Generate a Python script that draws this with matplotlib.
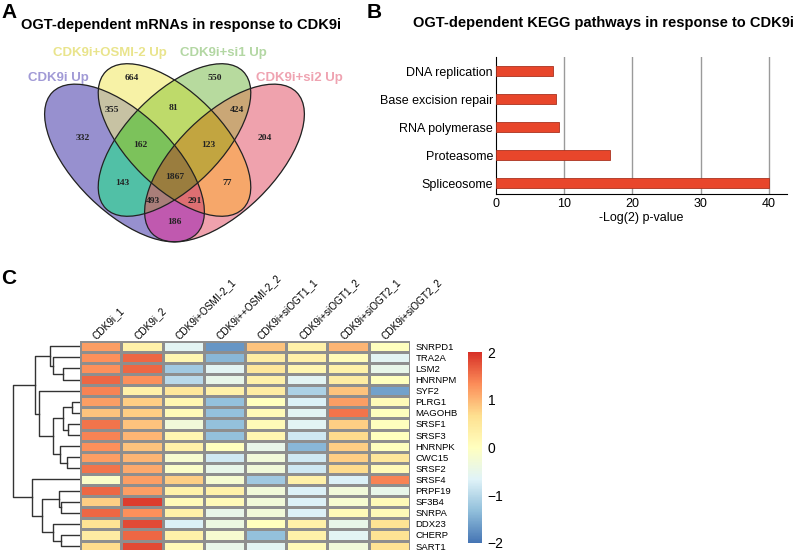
import matplotlib.pyplot as plt
import numpy as np
from matplotlib.patches import Ellipse
from matplotlib.colors import LinearSegmentedColormap, to_rgba

plt.rcParams['font.family'] = ['Liberation Sans', 'DejaVu Sans']

# ---- panel A: venn counts, region code = (CDK9i, OSMI-2, si1, si2)
venn_names = ['CDK9i Up', 'CDK9i+OSMI-2 Up', 'CDK9i+si1 Up', 'CDK9i+si2 Up']
venn_regions = ['1000', '0100', '0010', '0001', '1100', '0110', '0011', '1110',
                '0111', '1010', '1111', '0101', '1011', '1101', '1001']
venn_counts = [332, 664, 550, 204, 355, 81, 424, 162, 123, 143, 1867, 77, 493, 291, 186]

# ---- panel B
kegg_terms = ['Spliceosome', 'Proteasome', 'RNA polymerase', 'Base excision repair', 'DNA replication']
kegg_scores = [40.0, 16.8, 9.2, 8.85, 8.4]

# ---- panel C
samples = ['CDK9i_1', 'CDK9i_2', 'CDK9i+OSMI-2_1', 'CDK9i++OSMI-2_2', 'CDK9i+siOGT1_1',
           'CDK9i+siOGT1_2', 'CDK9i+siOGT2_1', 'CDK9i+siOGT2_2']
genes = ['SNRPD1', 'TRA2A', 'LSM2', 'HNRNPM', 'SYF2', 'PLRG1', 'MAGOHB', 'SRSF1', 'SRSF3',
         'HNRNPK', 'CWC15', 'SRSF2', 'SRSF4', 'PRPF19', 'SF3B4', 'SNRPA', 'DDX23', 'CHERP', 'SART1']
zscores = np.array([
    [1.2, 0.3, -0.6, -1.7, 0.9, 0.3, 1.0, 0.0],
    [1.3, 1.6, 0.2, -1.4, 0.4, 0.3, 0.1, -0.6],
    [1.3, 1.6, -1.2, -0.6, 0.5, 0.2, 0.3, -0.5],
    [1.6, 1.3, -1.0, -0.5, 0.3, -0.6, 0.4, 0.0],
    [1.4, 0.3, 0.5, 0.3, 0.4, -1.1, 0.9, -1.6],
    [1.2, 0.8, 0.2, -1.3, 0.0, -0.7, 1.2, 0.1],
    [0.9, 0.8, 0.1, -1.3, 0.1, -0.6, 1.5, 0.0],
    [1.5, 0.9, -0.3, -1.3, 0.1, -0.6, 0.8, 0.0],
    [1.4, 1.0, 0.2, -1.3, 0.2, -0.8, 0.7, 0.0],
    [1.3, 0.9, 0.3, 0.0, -0.5, -1.4, 0.8, 0.0],
    [1.2, 1.0, -0.2, -0.8, -0.3, -0.8, 0.8, 0.5],
    [1.5, 1.1, -0.1, -0.5, -0.3, -0.8, 0.7, 0.1],
    [-0.1, 1.2, 0.8, -0.2, -1.2, 0.3, -0.7, 1.4],
    [1.6, 1.2, 0.3, 0.3, -0.3, -0.7, -0.3, -0.5],
    [0.8, 1.9, 0.1, 0.1, -0.3, -0.7, -0.2, 0.1],
    [1.6, 1.3, 0.3, -0.5, -0.3, -0.7, 0.1, 0.1],
    [0.6, 1.8, -0.7, -0.4, 0.0, 0.3, -0.5, 0.6],
    [0.4, 1.6, 0.3, -0.2, -1.3, 0.3, -0.6, 0.6],
    [0.7, 1.8, 0.1, -0.5, -0.6, 0.1, -0.3, 0.6],
])
# row dendrogram merges (left, right, height)
row_linkage = [
    (2, 3, 17.3), (1, 19, 26.7), (0, 20, 30.0), (5, 6, 8.3), (7, 8, 11.7),
    (22, 23, 16.7), (10, 11, 13.3), (9, 25, 20.0), (24, 26, 26.7), (4, 27, 40.7),
    (21, 28, 45.0), (14, 15, 19.0), (13, 30, 20.7), (17, 18, 19.0), (16, 32, 27.3),
    (31, 33, 38.3), (12, 34, 48.3), (29, 35, 66.7),
]

W, H = 800, 550
fig = plt.figure(figsize=(W / 100, H / 100), dpi=100)


def px_axes(l, t, r, b):
    return fig.add_axes([l / W, 1 - b / H, (r - l) / W, (b - t) / H])


def px_text(x, y, s, **kw):
    fig.text(x / W, 1 - y / H, s, **kw)


# ================= A: venn (drawn in pixel units, y downwards)
vx0, vx1, vy0, vy1 = 30, 320, 45, 250
ax = px_axes(vx0, vy0, vx1, vy1)
ax.set_xlim(vx0, vx1)
ax.set_ylim(vy1, vy0)
ax.axis('off')

# centre x, centre y, semi-major, semi-minor, angle
ellipses = [(124.5, 163, 101, 49, 44.4), (174.5, 140, 97, 47.2, 45),
            (174.5, 140, 97, 47.2, 135), (224.5, 163, 101, 49, 135.6)]
region_colors = {
    '1000': '#9891CF', '0100': '#F7F2A6', '0010': '#B7DA9E', '0001': '#EFA2AD',
    '1100': '#C8C3A3', '0110': '#BFDB6A', '0011': '#CBA877', '1110': '#7CC25C',
    '0111': '#C3A540', '1010': '#52C1A6', '1111': '#9A7D3E', '0101': '#F6A86A',
    '1011': '#A97F79', '1101': '#DE6F72', '1001': '#C159B0'}
label_xy = {
    '1000': (83, 138), '0100': (132, 78), '0010': (215, 78), '0001': (265, 138),
    '1100': (112, 110), '0110': (173.5, 108), '0011': (237, 110), '1110': (140, 145),
    '0111': (208, 145), '1010': (122, 183), '1111': (174.5, 177), '0101': (227, 183),
    '1011': (153, 201), '1101': (195, 201), '1001': (174.5, 222)}

gx, gy = np.meshgrid(np.linspace(vx0, vx1, 1160), np.linspace(vy0, vy1, 820))
inside = []
for cx, cy, a, b, rot in ellipses:
    t = np.deg2rad(rot)
    u = (gx - cx) * np.cos(t) + (gy - cy) * np.sin(t)
    v = -(gx - cx) * np.sin(t) + (gy - cy) * np.cos(t)
    inside.append((u / a) ** 2 + (v / b) ** 2 <= 1)

img = np.zeros(gx.shape + (4,))
for code, n in zip(venn_regions, venn_counts):
    mask = np.ones(gx.shape, bool)
    for k, ch in enumerate(code):
        mask &= inside[k] if ch == '1' else ~inside[k]
    img[mask] = to_rgba(region_colors[code])
    lx, ly = label_xy[code]
    ax.text(lx, ly, str(n), ha='center', va='center', fontsize=6.8, fontweight='bold',
            family='Liberation Serif', color='#222222')
ax.imshow(img, extent=(vx0, vx1, vy1, vy0), origin='upper', aspect='auto', zorder=0)
for cx, cy, a, b, rot in ellipses:
    ax.add_patch(Ellipse((cx, cy), 2 * a, 2 * b, angle=rot, fill=False, ec='#222222', lw=0.9))

name_colors = ['#A19AD6', '#E9E48C', '#B3D7A3', '#EFA3B1']
name_pos = [(58, 78), (110, 53), (223, 53), (299, 78)]
for nm, c, (x, y) in zip(venn_names, name_colors, name_pos):
    px_text(x, y, nm, ha='center', va='center', fontsize=9.5, fontweight='bold', color=c)

px_text(1, 12, 'A', fontsize=15, fontweight='bold', va='center')
px_text(181, 25, 'OGT-dependent mRNAs in response to CDK9i', fontsize=10.5,
        fontweight='bold', ha='center', va='center')

# ================= B: bars
ax = px_axes(495.7, 57, 786.7, 194)
ypos = np.arange(len(kegg_terms))
ax.barh(ypos, kegg_scores, height=0.36, color='#E8462B', edgecolor='#A9321F', lw=0.6, zorder=3)
ax.set_xlim(0, 42.6)
ax.set_ylim(-0.39, 4.5)
ax.set_yticks(ypos)
ax.set_yticklabels(kegg_terms, fontsize=9)
ax.set_xticks([0, 10, 20, 30, 40])
ax.tick_params(axis='y', length=0, pad=2)
ax.tick_params(axis='x', length=0, pad=3, labelsize=9)
for g in [10, 20, 30, 40]:
    ax.axvline(g, color='#9a9a9a', lw=1, zorder=1)
for s in ['top', 'right']:
    ax.spines[s].set_visible(False)
ax.spines['left'].set_linewidth(0.8)
ax.spines['bottom'].set_linewidth(0.8)
ax.set_xlabel('-Log(2) p-value', fontsize=9, labelpad=1)

px_text(367, 12, 'B', fontsize=15, fontweight='bold', va='center')
px_text(603, 23, 'OGT-dependent KEGG pathways in response to CDK9i', fontsize=10.5,
        fontweight='bold', ha='center', va='center')

# ================= C: heatmap
px_text(1, 279, 'C', fontsize=15, fontweight='bold', va='center')
cmap = LinearSegmentedColormap.from_list(
    'rdylbu', ['#4575B4', '#91BFDB', '#E0F3F8', '#FFFFBF', '#FEE090', '#FC8D59', '#D73027'])
nr, nc = zscores.shape
top, rowh = 340.7, 11.1
ax = px_axes(80, top, 410, top + nr * rowh)
mesh = ax.pcolormesh(zscores, cmap=cmap, vmin=-2, vmax=2, edgecolors='#8e8e8e', linewidth=0.8)
ax.set_xlim(0, nc)
ax.set_ylim(nr, 0)
for s in ax.spines.values():
    s.set_visible(False)
ax.set_xticks([])
ax.yaxis.tick_right()
ax.set_yticks(np.arange(nr) + 0.5)
ax.set_yticklabels(genes, fontsize=6.8)
ax.tick_params(axis='y', length=0, pad=4)
for j, s in enumerate(samples):
    ax.text(j + 0.35, -0.3, s, rotation=45, rotation_mode='anchor', ha='left', va='center',
            fontsize=7.2)

# dendrogram
dax = px_axes(0, top, 80, top + nr * rowh)
dax.set_xlim(80, 0)
dax.set_ylim(nr, 0)
dax.axis('off')
pos = {i: (i + 0.5, 0.0) for i in range(nr)}
for k, (a, b, h) in enumerate(row_linkage):
    ya, ha = pos[a]
    yb, hb = pos[b]
    dax.plot([ha, h, h, hb], [ya, ya, yb, yb], color='#333333', lw=1)
    pos[nr + k] = ((ya + yb) / 2, h)

# colorbar
cax = px_axes(468, 352, 482, 543)
cb = fig.colorbar(mesh, cax=cax, ticks=[-2, -1, 0, 1, 2])
cb.outline.set_visible(False)
cax.tick_params(length=0, labelsize=10, pad=4)

fig.savefig('out.png', dpi=100)
